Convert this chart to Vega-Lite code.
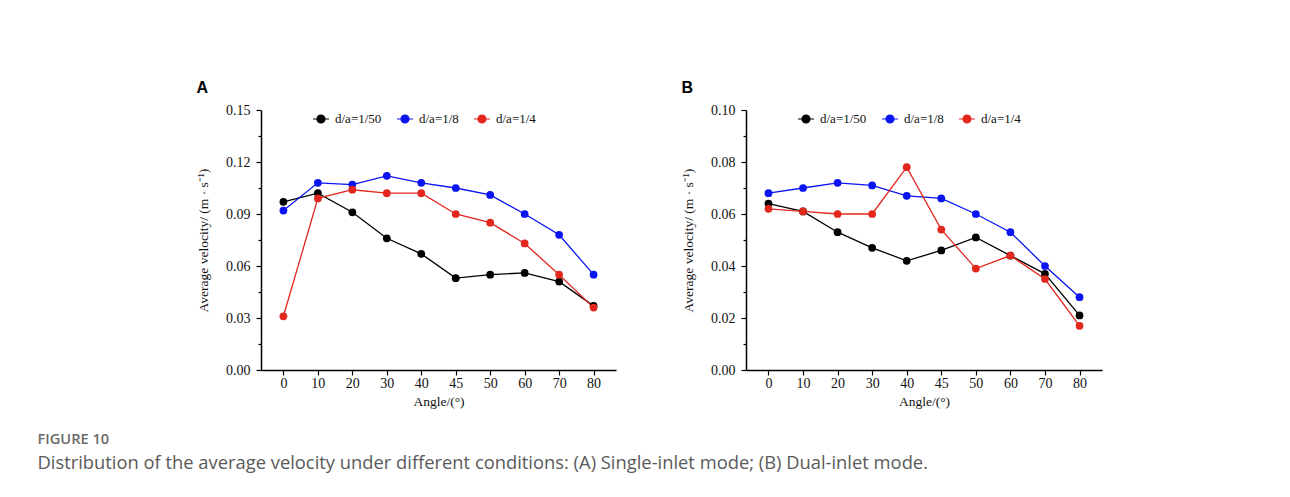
{
  "$schema": "https://vega.github.io/schema/vega-lite/v6.json",
  "background": "white",
  "padding": {"left": 37, "top": 80, "right": 10, "bottom": 10},
  "title": {
    "text": "FIGURE 10",
    "subtitle": "Distribution of the average velocity under different conditions: (A) Single-inlet mode; (B) Dual-inlet mode.",
    "orient": "bottom",
    "anchor": "start",
    "frame": "bounds",
    "dx": -159,
    "offset": 24,
    "font": "Open Sans",
    "fontSize": 14.6,
    "fontWeight": 600,
    "color": "#6a6a6a",
    "subtitleFont": "Open Sans",
    "subtitleFontSize": 18.35,
    "subtitleColor": "#5a5a5a",
    "subtitlePadding": 9
  },
  "datasets": {
    "A": [
      {"angle": 0, "series": "d/a=1/50", "v": 0.097},
      {"angle": 10, "series": "d/a=1/50", "v": 0.102},
      {"angle": 20, "series": "d/a=1/50", "v": 0.091},
      {"angle": 30, "series": "d/a=1/50", "v": 0.076},
      {"angle": 40, "series": "d/a=1/50", "v": 0.067},
      {"angle": 45, "series": "d/a=1/50", "v": 0.053},
      {"angle": 50, "series": "d/a=1/50", "v": 0.055},
      {"angle": 60, "series": "d/a=1/50", "v": 0.056},
      {"angle": 70, "series": "d/a=1/50", "v": 0.051},
      {"angle": 80, "series": "d/a=1/50", "v": 0.037},
      {"angle": 0, "series": "d/a=1/8", "v": 0.092},
      {"angle": 10, "series": "d/a=1/8", "v": 0.108},
      {"angle": 20, "series": "d/a=1/8", "v": 0.107},
      {"angle": 30, "series": "d/a=1/8", "v": 0.112},
      {"angle": 40, "series": "d/a=1/8", "v": 0.108},
      {"angle": 45, "series": "d/a=1/8", "v": 0.105},
      {"angle": 50, "series": "d/a=1/8", "v": 0.101},
      {"angle": 60, "series": "d/a=1/8", "v": 0.090},
      {"angle": 70, "series": "d/a=1/8", "v": 0.078},
      {"angle": 80, "series": "d/a=1/8", "v": 0.055},
      {"angle": 0, "series": "d/a=1/4", "v": 0.031},
      {"angle": 10, "series": "d/a=1/4", "v": 0.099},
      {"angle": 20, "series": "d/a=1/4", "v": 0.104},
      {"angle": 30, "series": "d/a=1/4", "v": 0.102},
      {"angle": 40, "series": "d/a=1/4", "v": 0.102},
      {"angle": 45, "series": "d/a=1/4", "v": 0.090},
      {"angle": 50, "series": "d/a=1/4", "v": 0.085},
      {"angle": 60, "series": "d/a=1/4", "v": 0.073},
      {"angle": 70, "series": "d/a=1/4", "v": 0.055},
      {"angle": 80, "series": "d/a=1/4", "v": 0.036}
    ],
    "B": [
      {"angle": 0, "series": "d/a=1/50", "v": 0.064},
      {"angle": 10, "series": "d/a=1/50", "v": 0.061},
      {"angle": 20, "series": "d/a=1/50", "v": 0.053},
      {"angle": 30, "series": "d/a=1/50", "v": 0.047},
      {"angle": 40, "series": "d/a=1/50", "v": 0.042},
      {"angle": 45, "series": "d/a=1/50", "v": 0.046},
      {"angle": 50, "series": "d/a=1/50", "v": 0.051},
      {"angle": 60, "series": "d/a=1/50", "v": 0.044},
      {"angle": 70, "series": "d/a=1/50", "v": 0.037},
      {"angle": 80, "series": "d/a=1/50", "v": 0.021},
      {"angle": 0, "series": "d/a=1/8", "v": 0.068},
      {"angle": 10, "series": "d/a=1/8", "v": 0.070},
      {"angle": 20, "series": "d/a=1/8", "v": 0.072},
      {"angle": 30, "series": "d/a=1/8", "v": 0.071},
      {"angle": 40, "series": "d/a=1/8", "v": 0.067},
      {"angle": 45, "series": "d/a=1/8", "v": 0.066},
      {"angle": 50, "series": "d/a=1/8", "v": 0.060},
      {"angle": 60, "series": "d/a=1/8", "v": 0.053},
      {"angle": 70, "series": "d/a=1/8", "v": 0.040},
      {"angle": 80, "series": "d/a=1/8", "v": 0.028},
      {"angle": 0, "series": "d/a=1/4", "v": 0.062},
      {"angle": 10, "series": "d/a=1/4", "v": 0.061},
      {"angle": 20, "series": "d/a=1/4", "v": 0.060},
      {"angle": 30, "series": "d/a=1/4", "v": 0.060},
      {"angle": 40, "series": "d/a=1/4", "v": 0.078},
      {"angle": 45, "series": "d/a=1/4", "v": 0.054},
      {"angle": 50, "series": "d/a=1/4", "v": 0.039},
      {"angle": 60, "series": "d/a=1/4", "v": 0.044},
      {"angle": 70, "series": "d/a=1/4", "v": 0.035},
      {"angle": 80, "series": "d/a=1/4", "v": 0.017}
    ]
  },
  "config": {
    "view": {"stroke": null},
    "axis": {
      "grid": false,
      "domainColor": "#000000",
      "domainWidth": 1.5,
      "tickColor": "#000000",
      "tickWidth": 1.2,
      "labelColor": "#111111",
      "titleColor": "#111111",
      "labelFont": "Liberation Serif",
      "titleFont": "Liberation Serif",
      "labelFontSize": 14,
      "titleFontSize": 13.5,
      "titleFontWeight": "normal"
    },
    "legend": {
      "labelFont": "Liberation Serif",
      "labelFontSize": 13,
      "labelColor": "#111111"
    },
    "title": {
      "font": "Liberation Sans",
      "fontSize": 16,
      "fontWeight": "bold",
      "anchor": "start",
      "frame": "bounds",
      "color": "#000000",
      "offset": 7
    }
  },
  "spacing": 65,
  "hconcat": [
    {
      "title": "A",
      "data": {"name": "A"},
      "width": 355,
      "height": 260,
      "mark": {"type": "line", "strokeWidth": 1.3, "point": {"filled": true, "size": 60, "opacity": 1}},
      "encoding": {
        "x": {
          "field": "angle",
          "type": "ordinal",
          "scale": {"type": "point", "padding": 0.65},
          "axis": {"title": "Angle/(°)", "labelAngle": 0, "tickSize": 5, "labelPadding": 1, "titlePadding": 4}
        },
        "y": {
          "field": "v",
          "type": "quantitative",
          "scale": {"domain": [0, 0.15], "nice": false},
          "axis": {
            "title": "Average velocity/ (m · s⁻¹)",
            "values": [0, 0.015, 0.03, 0.045, 0.06, 0.075, 0.09, 0.105, 0.12, 0.135, 0.15],
            "labelExpr": "round(datum.value*200) % 6 != 0 ? '' : format(datum.value, '.2f')",
            "tickSize": {"condition": {"test": "round(datum.value*200) % 6 != 0", "value": 3}, "value": 5},
            "titlePadding": 15,
            "labelPadding": 6
          }
        },
        "color": {
          "field": "series",
          "type": "nominal",
          "sort": ["d/a=1/50", "d/a=1/8", "d/a=1/4"],
          "scale": {"domain": ["d/a=1/50", "d/a=1/8", "d/a=1/4"], "range": ["#000000", "#0a14f0", "#e2271d"]},
          "legend": {
            "title": null,
            "orient": "none",
            "direction": "horizontal",
            "legendX": 51,
            "legendY": 0,
            "symbolType": "M-1,0H1M0.5,0A0.5,0.5 0 1,1 -0.5,0A0.5,0.5 0 1,1 0.5,0Z",
            "symbolSize": 256,
            "symbolStrokeWidth": 1.2,
            "labelOffset": 5,
            "columnPadding": 12,
            "encode": {"symbols": {"update": {"fill": {"scale": "color", "field": "value"}, "stroke": {"scale": "color", "field": "value"}, "opacity": {"value": 1}}}}
          }
        }
      }
    },
    {
      "title": "B",
      "data": {"name": "B"},
      "width": 356,
      "height": 260,
      "mark": {"type": "line", "strokeWidth": 1.3, "point": {"filled": true, "size": 60, "opacity": 1}},
      "encoding": {
        "x": {
          "field": "angle",
          "type": "ordinal",
          "scale": {"type": "point", "padding": 0.65},
          "axis": {"title": "Angle/(°)", "labelAngle": 0, "tickSize": 5, "labelPadding": 1, "titlePadding": 4}
        },
        "y": {
          "field": "v",
          "type": "quantitative",
          "scale": {"domain": [0, 0.10], "nice": false},
          "axis": {
            "title": "Average velocity/ (m · s⁻¹)",
            "values": [0, 0.01, 0.02, 0.03, 0.04, 0.05, 0.06, 0.07, 0.08, 0.09, 0.10],
            "labelExpr": "round(datum.value*100) % 2 != 0 ? '' : format(datum.value, '.2f')",
            "tickSize": {"condition": {"test": "round(datum.value*100) % 2 != 0", "value": 3}, "value": 5},
            "titlePadding": 15,
            "labelPadding": 6
          }
        },
        "color": {
          "field": "series",
          "type": "nominal",
          "sort": ["d/a=1/50", "d/a=1/8", "d/a=1/4"],
          "scale": {"domain": ["d/a=1/50", "d/a=1/8", "d/a=1/4"], "range": ["#000000", "#0a14f0", "#e2271d"]},
          "legend": {
            "title": null,
            "orient": "none",
            "direction": "horizontal",
            "legendX": 51,
            "legendY": 0,
            "symbolType": "M-1,0H1M0.5,0A0.5,0.5 0 1,1 -0.5,0A0.5,0.5 0 1,1 0.5,0Z",
            "symbolSize": 256,
            "symbolStrokeWidth": 1.2,
            "labelOffset": 5,
            "columnPadding": 12,
            "encode": {"symbols": {"update": {"fill": {"scale": "color", "field": "value"}, "stroke": {"scale": "color", "field": "value"}, "opacity": {"value": 1}}}}
          }
        }
      }
    }
  ],
  "resolve": {"scale": {"color": "independent", "y": "independent", "x": "independent"}, "legend": {"color": "independent"}}
}
